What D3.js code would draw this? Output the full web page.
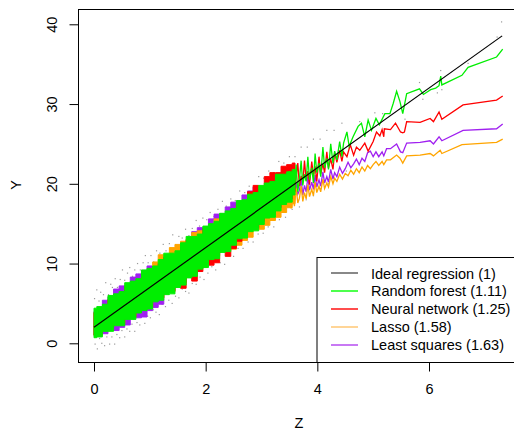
<!DOCTYPE html>
<html>
<head>
<meta charset="utf-8">
<script src="https://cdn.jsdelivr.net/npm/d3@7"></script>
<style>
  body { margin: 0; background: #fff; }
  svg { display: block; font-family: "Liberation Sans", Arial, Helvetica, sans-serif; }
</style>
</head>
<body>
<svg id="chart" width="514" height="430"></svg>
<script>
'use strict';

/* global d3 */

var xTicks = [0, 2, 4, 6];
var yTicks = [0, 10, 20, 30, 40];

var legendLabels = ['Ideal regression (1)', 'Random forest (1.11)', 'Neural network (1.25)', 'Lasso (1.58)', 'Least squares (1.63)'];
var legendColors = ['#555555', '#00ff00', '#ff0000', '#ffc36b', '#b040f0'];

// dense part of the fits (z from 0 to 3.6): upper / lower edge of each band
var bandZ = [0, 0.1, 0.2, 0.3, 0.4, 0.5, 0.6, 0.7, 0.8, 0.9, 1.0, 1.1, 1.2, 1.3, 1.4, 1.5, 1.6, 1.7, 1.8, 1.9,
  2.0, 2.1, 2.2, 2.3, 2.4, 2.5, 2.6, 2.7, 2.8, 2.9, 3.0, 3.1, 3.2, 3.3, 3.4, 3.5, 3.6];

var forestHi = [4.4, 4.6, 4.9, 6.0, 6.2, 6.5, 7.6, 7.8, 8.1, 9.2, 9.4, 9.7, 10.5, 11.3, 11.3, 11.6, 12.6, 13.4, 13.4, 13.7,
  14.7, 15.0, 15.3, 16.3, 16.6, 16.9, 17.9, 18.0, 18.7, 18.9, 19.8, 20.1, 20.3, 21.2, 21.2, 21.5, 21.8];
var forestLo = [0.7, 0.8, 1.5, 1.5, 2.2, 2.2, 3.0, 3.0, 3.8, 4.1, 4.3, 5.2, 5.4, 6.1, 6.2, 7.0, 7.3, 8.2, 8.4, 9.3,
  9.5, 10.5, 10.6, 11.4, 11.5, 12.3, 13.1, 13.2, 14.0, 14.1, 14.9, 15.7, 15.8, 16.6, 17.4, 17.7, 18.6];

var neuralHi = [3.9, 4.1, 4.4, 5.5, 5.7, 6.0, 7.1, 7.3, 7.6, 8.7, 8.9, 9.2, 10.0, 10.8, 10.8, 11.1, 12.1, 12.9, 12.9, 13.2,
  14.4, 14.5, 14.8, 15.8, 16.1, 16.4, 17.4, 17.5, 19.0, 19.8, 19.6, 20.9, 21.4, 21.4, 22.2, 22.4, 22.6];
var neuralLo = [1.0, 1.1, 1.8, 1.8, 2.5, 2.5, 3.3, 3.3, 4.1, 4.4, 4.6, 5.5, 5.7, 6.4, 6.5, 7.3, 6.9, 8.4, 7.8, 9.0,
  9.7, 9.8, 10.1, 11.5, 10.9, 11.9, 12.8, 13.6, 14.4, 14.5, 15.3, 16.1, 16.2, 17.0, 17.8, 18.1, 19.0];

var lassoHi = [3.8, 4.1, 4.5, 5.4, 5.7, 6.1, 6.9, 7.4, 7.8, 8.6, 9.2, 10.2, 11.1, 11.1, 12.0, 12.4, 12.8, 13.1, 13.9, 14.1,
  14.2, 14.6, 15.6, 15.7, 16.1, 16.5, 17.2, 17.4, 18.0, 18.3, 19.0, 19.3, 19.6, 20.4, 20.4, 20.7, 21.0];
var lassoLo = [1.0, 1.1, 1.8, 1.8, 2.5, 2.5, 3.3, 3.3, 4.1, 4.4, 4.6, 5.5, 5.7, 6.4, 6.5, 7.3, 7.6, 8.5, 8.7, 9.6,
  9.8, 10.8, 10.9, 11.7, 11.8, 11.8, 12.3, 12.9, 13.3, 14.3, 14.3, 14.8, 15.4, 15.8, 16.4, 17.0, 17.5];

var lsqHi = [4.0, 4.3, 5.4, 5.8, 6.8, 7.2, 7.3, 8.3, 8.7, 9.0, 9.7, 9.2, 9.9, 10.5, 10.9, 11.1, 12.3, 13.0, 14.0, 14.5,
  14.5, 15.6, 16.2, 16.2, 17.1, 17.7, 17.6, 18.6, 19.1, 19.6, 19.4, 19.5, 19.8, 20.3, 20.4, 20.6, 20.8];
var lsqLo = [1.0, 1.0, 1.2, 1.7, 1.6, 2.0, 2.3, 3.3, 3.2, 3.3, 4.1, 4.5, 4.9, 6.4, 6.7, 7.4, 7.7, 8.6, 8.8, 9.7,
  9.9, 10.9, 11.0, 11.8, 11.9, 12.7, 13.5, 13.6, 14.4, 14.5, 15.3, 16.1, 16.2, 17.0, 17.8, 18.1, 19.0];

// sparse part of the fits, [z, prediction]
var forestTail = [[3.50, 21.6], [3.53, 18.0], [3.56, 21.0], [3.59, 19.4], [3.62, 22.4], [3.65, 19.0], [3.68, 20.6], [3.71, 22.9],
  [3.74, 19.8], [3.77, 21.2], [3.80, 20.3], [3.83, 23.4], [3.86, 20.5], [3.90, 22.0], [3.93, 20.1], [3.96, 23.8], [3.99, 21.4],
  [4.03, 22.6], [4.06, 20.9], [4.10, 24.6], [4.13, 22.0], [4.17, 23.2], [4.20, 21.8], [4.24, 25.0], [4.28, 22.6], [4.31, 24.1],
  [4.35, 23.0], [4.40, 25.3], [4.44, 23.4], [4.47, 25.1], [4.53, 26.5], [4.57, 24.7], [4.64, 25.9], [4.73, 27.2], [4.79, 27.6],
  [4.85, 25.9], [4.91, 28.0], [4.97, 26.7], [5.05, 28.2], [5.11, 27.4], [5.21, 28.8], [5.30, 28.8], [5.36, 30.1], [5.42, 31.6],
  [5.48, 30.3], [5.53, 28.8], [5.60, 31.3], [5.83, 31.9], [5.90, 31.2], [6.03, 31.8], [6.12, 32.0], [6.18, 32.3], [6.21, 33.5],
  [6.23, 32.4], [6.59, 33.6], [6.70, 34.6], [7.21, 35.9], [7.32, 36.9]];

var neuralTail = [[3.50, 22.3], [3.53, 19.6], [3.56, 21.4], [3.59, 18.9], [3.62, 20.8], [3.65, 22.6], [3.68, 19.7], [3.71, 21.0],
  [3.74, 20.2], [3.77, 22.9], [3.80, 20.4], [3.83, 21.6], [3.86, 19.9], [3.90, 22.8], [3.93, 21.0], [3.96, 22.2], [3.99, 20.3],
  [4.03, 23.4], [4.06, 21.2], [4.10, 22.5], [4.13, 21.4], [4.17, 24.0], [4.20, 22.0], [4.24, 23.1], [4.28, 21.8], [4.31, 23.9],
  [4.35, 22.7], [4.40, 24.2], [4.44, 22.8], [4.47, 24.0], [4.53, 23.4], [4.59, 24.9], [4.65, 23.6], [4.70, 24.6], [4.76, 24.2],
  [4.85, 25.1], [4.91, 24.1], [5.00, 25.3], [5.06, 26.5], [5.12, 26.0], [5.16, 26.8], [5.19, 25.9], [5.20, 26.9], [5.31, 26.8],
  [5.40, 27.6], [5.49, 26.5], [5.53, 26.4], [5.56, 26.5], [5.60, 27.8], [5.84, 27.7], [6.02, 28.2], [6.08, 27.8], [6.18, 29.0],
  [6.23, 28.1], [6.61, 29.9], [7.21, 30.5], [7.32, 31.0]];

var lassoTail = [[3.50, 19.2], [3.53, 16.9], [3.56, 18.6], [3.59, 17.2], [3.62, 19.5], [3.65, 17.6], [3.68, 18.2], [3.71, 19.7],
  [3.74, 17.8], [3.77, 18.9], [3.80, 18.1], [3.83, 19.9], [3.86, 18.4], [3.90, 19.3], [3.93, 18.5], [3.96, 20.2], [3.99, 18.9],
  [4.03, 19.7], [4.06, 19.0], [4.10, 20.6], [4.13, 19.4], [4.17, 20.1], [4.20, 19.6], [4.24, 20.9], [4.28, 20.0], [4.31, 20.7],
  [4.35, 20.3], [4.40, 21.2], [4.45, 20.6], [4.50, 21.3], [4.55, 21.0], [4.60, 21.7], [4.65, 21.2], [4.70, 21.9], [4.75, 21.4],
  [4.80, 22.1], [4.85, 21.6], [4.90, 22.3], [4.95, 21.9], [5.00, 22.4], [5.05, 22.8], [5.10, 22.3], [5.16, 22.8], [5.19, 22.4],
  [5.24, 23.0], [5.31, 23.0], [5.42, 23.6], [5.48, 23.2], [5.53, 22.6], [5.60, 23.5], [5.84, 23.6], [6.02, 23.8], [6.08, 23.5],
  [6.20, 24.2], [6.23, 23.8], [6.59, 24.9], [7.21, 25.2], [7.32, 25.6]];

var lsqTail = [[3.50, 20.4], [3.53, 18.3], [3.56, 19.6], [3.59, 17.9], [3.62, 20.1], [3.65, 18.7], [3.68, 19.2], [3.71, 20.6],
  [3.74, 18.6], [3.77, 19.8], [3.80, 19.0], [3.83, 20.9], [3.86, 19.2], [3.90, 20.2], [3.93, 19.3], [3.96, 21.1], [3.99, 19.6],
  [4.03, 20.5], [4.06, 19.7], [4.10, 21.5], [4.13, 20.1], [4.17, 20.9], [4.20, 20.2], [4.24, 21.8], [4.28, 20.6], [4.31, 21.4],
  [4.35, 20.9], [4.40, 22.1], [4.45, 21.3], [4.50, 21.9], [4.55, 22.7], [4.60, 22.0], [4.65, 22.5], [4.70, 23.1], [4.75, 22.4],
  [4.80, 23.2], [4.85, 22.8], [4.90, 23.9], [4.95, 24.1], [5.00, 23.4], [5.05, 24.0], [5.10, 23.4], [5.16, 24.0], [5.19, 23.5],
  [5.24, 24.4], [5.31, 24.4], [5.42, 25.0], [5.49, 24.0], [5.53, 23.9], [5.60, 25.1], [5.84, 25.2], [6.02, 25.4], [6.08, 25.0],
  [6.18, 25.9], [6.23, 25.4], [6.61, 26.7], [7.21, 26.9], [7.32, 27.5]];

var idealLine = [[0, 2.0], [7.31, 38.55]];

// observations that show outside the fitted bands
var grayPoints = [[0.01, 5.6], [0.05, 6.7], [0.09, 5.3], [0.12, 6.4], [0.17, 6.1], [0.21, 7.6], [0.26, 6.1], [0.30, 7.4],
  [0.33, 7.0], [0.38, 8.1], [0.42, 7.0], [0.47, 8.0], [0.51, 9.2], [0.55, 7.9], [0.60, 8.8], [0.64, 9.5], [0.69, 8.4],
  [0.73, 9.2], [0.78, 10.0], [0.83, 9.2], [0.88, 10.1], [0.92, 11.0], [0.97, 10.1], [1.02, 11.0], [1.07, 10.2], [1.12, 11.6],
  [1.18, 11.3], [1.24, 12.4], [1.29, 11.6], [1.35, 12.5], [1.41, 13.6], [1.46, 12.3], [1.52, 13.4], [1.58, 13.2], [1.64, 14.3],
  [1.70, 13.5], [1.76, 14.4], [1.83, 15.4], [1.89, 14.7], [1.95, 15.7], [2.02, 15.5], [2.08, 16.4], [2.15, 15.9], [2.22, 16.8],
  [2.30, 17.8], [2.37, 17.2], [2.45, 18.1], [2.53, 17.9], [2.61, 19.1], [2.70, 18.9], [2.78, 19.7], [2.86, 19.6], [2.95, 20.9],
  [3.04, 20.7], [3.13, 21.6], [3.22, 21.4], [3.31, 22.8], [3.40, 22.6], [3.50, 23.4], [3.60, 23.4], [3.71, 24.6], [3.82, 24.6],
  [3.93, 25.6], [4.05, 25.6], [4.17, 26.7], [4.30, 26.7], [4.44, 27.6], [4.76, 27.8], [5.03, 28.9], [5.17, 28.8], [5.57, 28.1],
  [5.83, 32.7], [5.89, 30.6], [6.15, 31.4], [6.21, 34.2], [6.23, 31.8], [6.70, 35.1], [7.22, 38.4], [7.30, 40.3],
  [0.02, -0.1], [0.06, -0.7], [0.10, 0.6], [0.14, 0.0], [0.19, -0.3], [0.23, 0.8], [0.28, -0.1], [0.32, 0.8], [0.37, -0.1],
  [0.41, 1.1], [0.46, 0.7], [0.50, 1.6], [0.55, 0.8], [0.59, 1.8], [0.64, 1.5], [0.68, 2.4], [0.73, 1.5], [0.77, 2.6],
  [0.82, 2.3], [0.87, 3.4], [0.91, 2.5], [0.96, 3.4], [1.01, 3.2], [1.06, 4.2], [1.11, 3.9], [1.17, 3.6], [1.22, 4.9],
  [1.28, 4.6], [1.34, 5.4], [1.40, 5.0], [1.46, 5.9], [1.52, 5.7], [1.58, 6.8], [1.64, 6.5], [1.70, 6.3], [1.76, 7.5],
  [1.83, 7.4], [1.90, 8.3], [1.97, 8.0], [2.04, 8.8], [2.11, 9.6], [2.18, 9.2], [2.26, 10.1], [2.34, 9.9], [2.42, 11.0],
  [2.50, 10.9], [2.58, 11.9], [2.67, 11.9], [2.76, 12.7], [2.85, 12.7], [2.94, 13.7], [3.03, 13.8], [3.12, 14.6], [3.22, 14.6],
  [3.32, 15.5], [3.43, 15.8], [3.55, 16.8], [3.68, 17.1], [3.80, 18.0], [3.93, 18.5], [4.06, 19.4], [4.20, 20.0], [4.35, 21.0],
  [4.52, 21.6]];

// drawn bottom to top
var series = [
  { hi: lsqHi, lo: lsqLo, tail: lsqTail, color: '#a020f0' },
  { hi: lassoHi, lo: lassoLo, tail: lassoTail, color: '#ffa500' },
  { hi: neuralHi, lo: neuralLo, tail: neuralTail, color: '#ff0000' },
  { hi: forestHi, lo: forestLo, tail: forestTail, color: '#00ee00' }
];

var svg = d3.select('#chart');
var fontSize = '14.5px';

// plot region (right edge falls outside the picture, as in the original)
var plotLeft = 78, plotTop = 9, plotBottom = 362, plotRight = 521;

var x = d3.scaleLinear().domain([0, 6]).range([94, 429]);
var y = d3.scaleLinear().domain([0, 40]).range([343.3, 24.3]);

svg.append('defs').append('clipPath').attr('id', 'plotclip')
  .append('rect')
  .attr('x', plotLeft).attr('y', plotTop)
  .attr('width', plotRight - plotLeft).attr('height', plotBottom - plotTop);

var plot = svg.append('g').attr('clip-path', 'url(#plotclip)');

plot.selectAll('rect.obs')
  .data(grayPoints)
  .enter().append('rect')
  .attr('class', 'obs')
  .attr('x', function(d) { return x(d[0]) - 0.6; })
  .attr('y', function(d) { return y(d[1]) - 0.6; })
  .attr('width', 1.2).attr('height', 1.2)
  .attr('fill', '#9a9a9a');

// the bands are thousands of tiny zig-zags in the original; a step edge keeps that blocky look
var band = d3.area()
  .x(function(i) { return x(bandZ[i]); })
  .curve(d3.curveStep);

var line = d3.line()
  .x(function(d) { return x(d[0]); })
  .y(function(d) { return y(d[1]); });

var idx = d3.range(bandZ.length);

series.forEach(function(s) {
  plot.append('path')
    .datum(idx)
    .attr('d', band.y0(function(i) { return y(s.lo[i]); }).y1(function(i) { return y(s.hi[i]); }))
    .attr('fill', s.color)
    .attr('stroke', s.color)
    .attr('stroke-width', 1);
  plot.append('path')
    .datum(s.tail)
    .attr('d', line)
    .attr('fill', 'none')
    .attr('stroke', s.color)
    .attr('stroke-width', 1.3);
});

plot.append('path')
  .datum(idealLine)
  .attr('d', line)
  .attr('fill', 'none')
  .attr('stroke', '#000')
  .attr('stroke-width', 1.2);

// box
svg.append('rect')
  .attr('x', plotLeft + 0.5).attr('y', plotTop + 0.5)
  .attr('width', plotRight - plotLeft).attr('height', plotBottom - plotTop)
  .attr('fill', 'none').attr('stroke', '#000').attr('stroke-width', 1);

// axes, R style
var xAxis = svg.append('g')
  .attr('transform', 'translate(0,' + (plotBottom + 0.5) + ')')
  .call(d3.axisBottom(x).tickValues(xTicks).tickSize(9).tickFormat(d3.format('d')));
xAxis.select('.domain').remove();
xAxis.selectAll('text').attr('y', 31.5).attr('dy', 0)
  .style('font-size', fontSize).attr('fill', '#000');

var yAxis = svg.append('g')
  .attr('transform', 'translate(' + (plotLeft + 0.5) + ',0)')
  .call(d3.axisLeft(y).tickValues(yTicks).tickSize(9).tickFormat(d3.format('d')));
yAxis.select('.domain').remove();
yAxis.selectAll('.tick text')
  .attr('x', 0).attr('dy', 0)
  .attr('text-anchor', 'middle')
  .attr('transform', 'translate(-21.5,0) rotate(-90)')
  .style('font-size', fontSize).attr('fill', '#000');
xAxis.attr('font-family', null);
yAxis.attr('font-family', null);

svg.append('text')
  .attr('x', 299).attr('y', 428)
  .attr('text-anchor', 'middle')
  .style('font-size', fontSize)
  .text('Z');

svg.append('text')
  .attr('transform', 'translate(21,185) rotate(-90)')
  .attr('text-anchor', 'middle')
  .style('font-size', fontSize)
  .text('Y');

// legend, bottom right
var legend = svg.append('g');
legend.append('rect')
  .attr('x', 317).attr('y', 257.5)
  .attr('width', 220).attr('height', plotBottom - 257)
  .attr('fill', '#fff').attr('stroke', '#000').attr('stroke-width', 1);

var rowY = d3.scalePoint().domain(d3.range(legendLabels.length)).range([273.3, 345]);

legendLabels.forEach(function(label, i) {
  legend.append('line')
    .attr('x1', 331).attr('x2', 358)
    .attr('y1', Math.round(rowY(i))).attr('y2', Math.round(rowY(i)))
    .attr('stroke', legendColors[i]).attr('stroke-width', 1.4);
  legend.append('text')
    .attr('x', 371).attr('y', rowY(i) + 5.2)
    .style('font-size', fontSize)
    .text(label);
});
</script>
</body>
</html>
